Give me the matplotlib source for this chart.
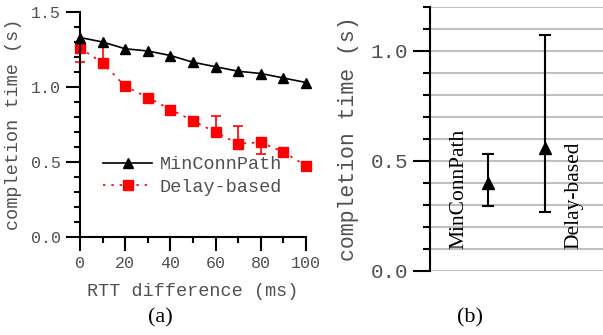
import matplotlib
matplotlib.use("Agg")
import matplotlib.pyplot as plt
from matplotlib.ticker import MultipleLocator

# ---- data (panel a) ----
rtt_diff = [0, 10, 20, 30, 40, 50, 60, 70, 80, 90, 100]
minconn = [1.33, 1.30, 1.255, 1.24, 1.21, 1.165, 1.135, 1.105, 1.09, 1.06, 1.03]
delay = [1.26, 1.16, 1.005, 0.93, 0.85, 0.775, 0.698, 0.622, 0.631, 0.567, 0.475]
delay_err_lo = [0.093, 0, 0, 0, 0, 0, 0, 0, 0.08, 0, 0]
delay_err_hi = [0, 0.107, 0, 0, 0, 0, 0.11, 0.12, 0, 0, 0]

# ---- data (panel b) ----
methods = ["MinConnPath", "Delay-based"]
mean_b = [0.40, 0.56]
low_b = [0.295, 0.268]
high_b = [0.530, 1.075]

mono = "Liberation Mono"
serif = "Liberation Serif"
gray = "#505050"

fig = plt.figure(figsize=(6.03, 3.35), dpi=100)

# ---------- panel (a) ----------
ax = fig.add_axes([80/603, 1-237/335, 226/603, 225/335])
ax.plot(rtt_diff, minconn, color="black", lw=1.2, marker="^", ms=7,
        label="MinConnPath", zorder=3, clip_on=False)
ax.errorbar(rtt_diff, delay, yerr=[delay_err_lo, delay_err_hi], fmt="none",
            ecolor="red", capsize=3.5, capthick=1.2, elinewidth=1.2,
            zorder=2, clip_on=False)
ax.plot(rtt_diff, delay, color="red", lw=1.2, marker="s", ms=7,
        dashes=(1.5, 3.5), label="Delay-based", zorder=2, clip_on=False)
ax.set_xlim(0, 100)
ax.set_ylim(0, 1.5)
ax.xaxis.set_major_locator(MultipleLocator(20))
ax.xaxis.set_minor_locator(MultipleLocator(10))
ax.yaxis.set_major_locator(MultipleLocator(0.5))
ax.yaxis.set_minor_locator(MultipleLocator(0.1))
ax.yaxis.set_major_formatter(plt.FuncFormatter(lambda v, p: f"{v:.1f}"))
for s in ["top", "right"]:
    ax.spines[s].set_visible(False)
for s in ["left", "bottom"]:
    ax.spines[s].set_linewidth(1.5)
ax.tick_params(which="major", length=10, width=1.5, direction="out",
               labelsize=12, labelcolor=gray, pad=4)
ax.tick_params(which="minor", length=4, width=1.5, direction="out")
for lab in ax.get_xticklabels() + ax.get_yticklabels():
    lab.set_family(mono)
ax.set_xlabel("RTT difference (ms)", family=mono, fontsize=13.3, color=gray, labelpad=8)
ax.set_ylabel("completion time (s)", family=mono, fontsize=13.3, color=gray, labelpad=6)
leg = ax.legend(loc="upper left", bbox_to_anchor=(0.10, 0.36), frameon=False,
                prop={"family": mono, "size": 13.3}, handlelength=2.7,
                handletextpad=0.4, labelspacing=0.3, borderaxespad=0.0,
                borderpad=0.0)
for t in leg.get_texts():
    t.set_color(gray)

# ---------- panel (b) ----------
bx = fig.add_axes([430/603, 1-271/335, 173/603, 264/335])
bx.set_xlim(0, 3)
bx.set_ylim(0, 1.2)
bx.yaxis.set_major_locator(MultipleLocator(0.5))
bx.yaxis.set_minor_locator(MultipleLocator(0.1))
bx.yaxis.set_major_formatter(plt.FuncFormatter(lambda v, p: f"{v:.1f}"))
bx.grid(True, which="both", axis="y", color="#c0c0c0", lw=1.5)
bx.set_axisbelow(True)
bx.set_xticks([])
for s in ["top", "right", "bottom"]:
    bx.spines[s].set_visible(False)
bx.spines["left"].set_linewidth(1.5)
bx.tick_params(which="major", length=12, width=1.5, labelsize=15, labelcolor=gray, pad=4)
bx.tick_params(which="minor", length=5, width=1.5)
for lab in bx.get_yticklabels():
    lab.set_family(mono)
bx.set_ylabel("completion time (s)", family=mono, fontsize=15.5, color=gray, labelpad=8)

xpos = [1, 2]
yerr_lo = [m - l for m, l in zip(mean_b, low_b)]
yerr_hi = [h - m for m, h in zip(mean_b, high_b)]
bx.errorbar(xpos, mean_b, yerr=[yerr_lo, yerr_hi], fmt="^", color="black",
            ms=8, capsize=4.5, capthick=1.5, elinewidth=1.5, zorder=3)
for xp, name in zip([0.5, 2.5], methods):
    bx.text(xp, 0.1, name, rotation=90, ha="center", va="bottom",
            family=serif, fontsize=15.5, color="black")

# captions
fig.text(160/603, 1-318/335, "(a)", ha="center", va="center", family=serif, fontsize=16)
fig.text(470/603, 1-318/335, "(b)", ha="center", va="center", family=serif, fontsize=16)

fig.savefig("out.png", dpi=100)
